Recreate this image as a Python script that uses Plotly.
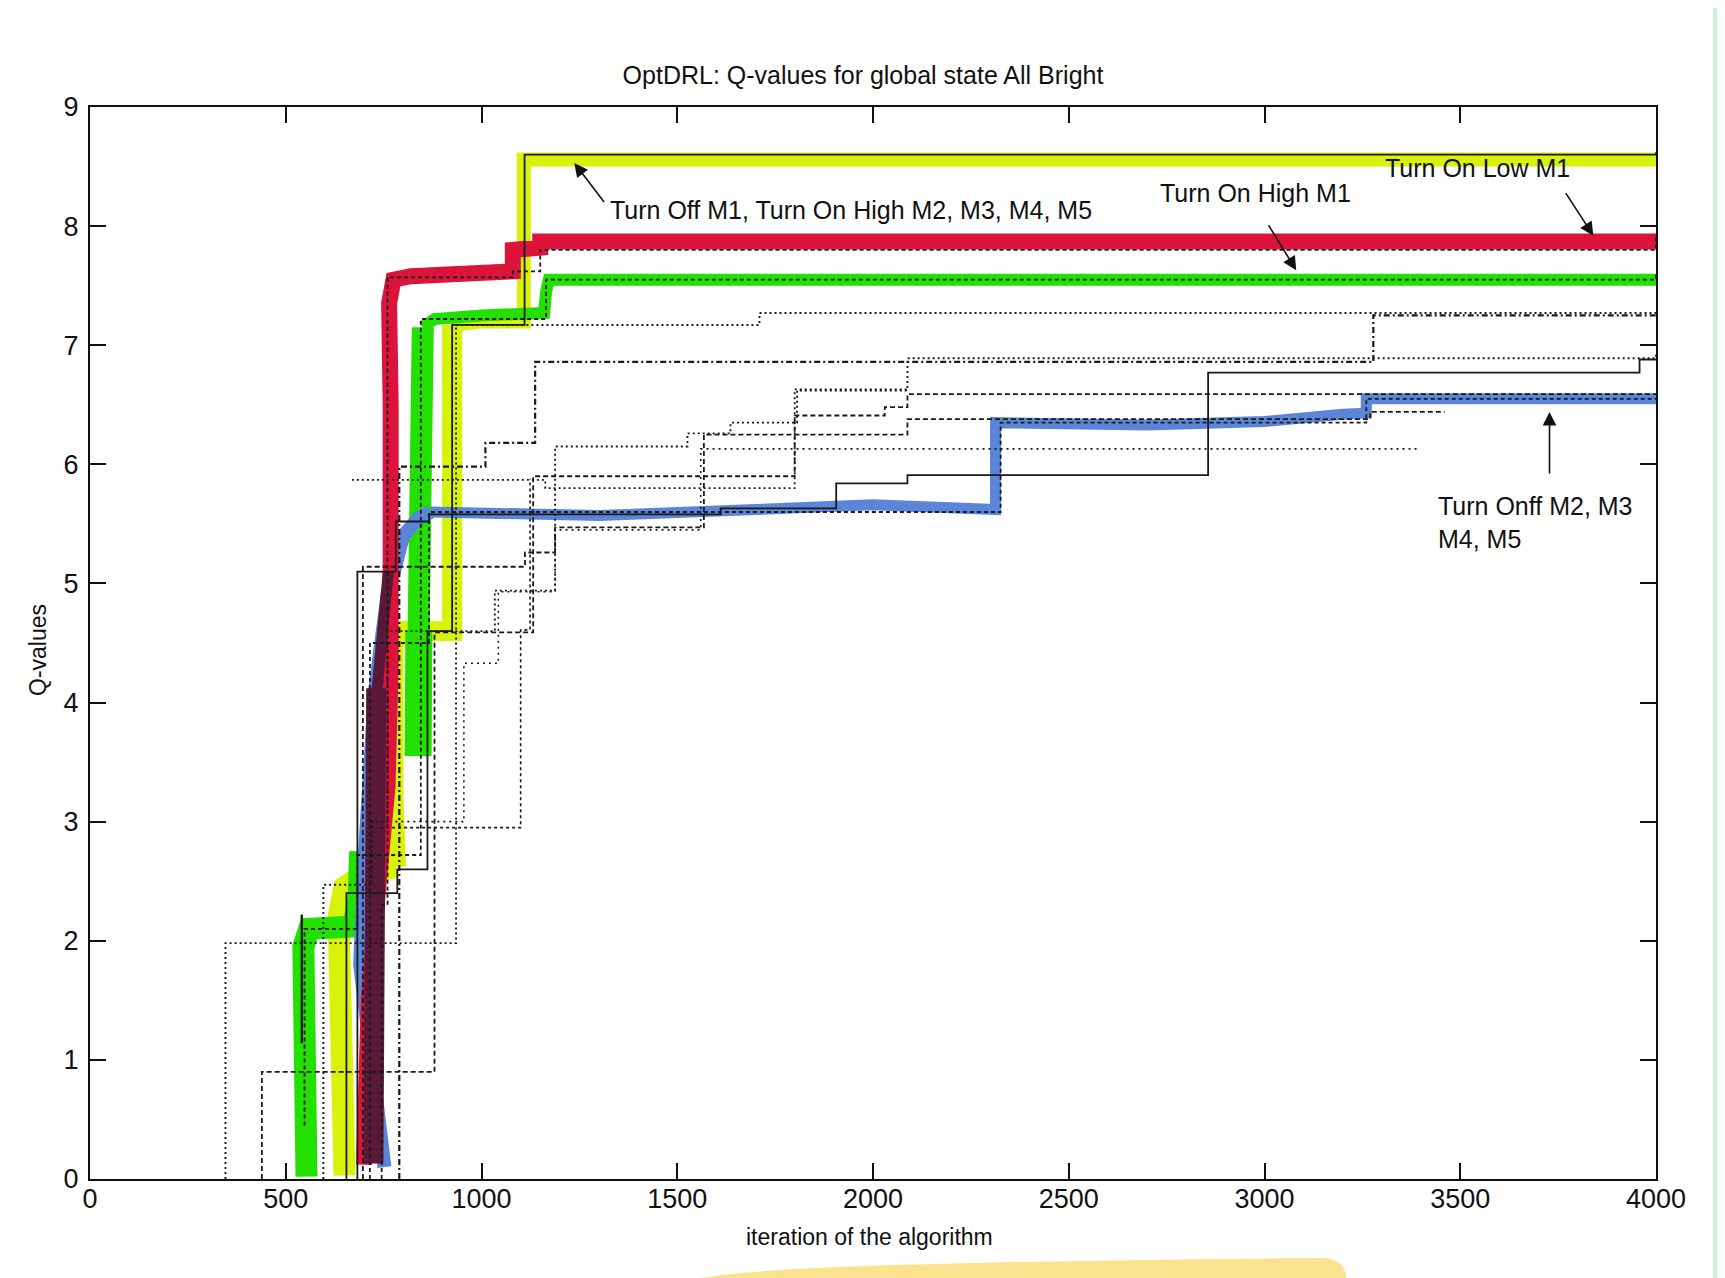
import plotly.graph_objects as go

# ---------------- data (iteration, Q-value) ----------------
x_ticks = [0, 500, 1000, 1500, 2000, 2500, 3000, 3500, 4000]
y_ticks = [0, 1, 2, 3, 4, 5, 6, 7, 8, 9]

# black step curves (shape hv)
q1_x = [655, 655, 785, 862, 925, 1110, 4000]
q1_y = [0, 2.4, 2.6, 4.6, 7.17, 8.6, 8.62]
q2_x = [745, 745, 760, 1080, 1150, 4000]
q2_y = [0, 2.3, 7.57, 7.62, 7.8, 7.92]
q3_x = [548, 548, 683, 845, 1165, 4000]
q3_y = [0.45, 2.1, 2.72, 7.22, 7.55, 7.61]
q3b_x = [541, 541]
q3b_y = [1.14, 2.22]
q4_x = [346, 346, 935, 1710, 4000]
q4_y = [0, 1.98, 7.17, 7.27, 7.29]
q5_x = [790, 790, 1010, 1137, 3278, 4000]
q5_y = [0, 5.98, 6.18, 6.86, 7.25, 7.27]
q6_x = [596, 596, 720, 760, 1034, 1188, 1526, 1636, 1806, 2088, 4000]
q6_y = [0, 2.47, 3.0, 4.6, 4.94, 6.15, 6.26, 6.35, 6.62, 6.89, 6.92]
q7_x = [683, 683, 781, 866, 1611, 1906, 2088, 2856, 3958, 4000]
q7_y = [0, 5.1, 5.52, 5.58, 5.63, 5.84, 5.91, 6.77, 6.88, 6.88]
q8_x = [439, 439, 880, 1132, 1800, 2030, 2088, 4000]
q8_y = [0, 0.9, 4.59, 5.9, 6.41, 6.48, 6.59, 6.59]
q9_x = [715, 715, 866, 2326, 3260, 4000]
q9_y = [0, 4.5, 5.6, 6.35, 6.55, 6.55]
q10_x = [780, 955, 1043, 1188, 1560, 3390]
q10_y = [3.0, 4.33, 4.93, 5.45, 6.13, 6.13]
q11_x = [697, 697, 1111, 1188, 1568, 2088, 3270, 3460]
q11_y = [0, 5.14, 5.26, 5.47, 6.25, 6.38, 6.44, 6.44]
q12_x = [669, 1163, 1800, 2088]
q12_y = [5.87, 5.8, 6.63, 6.63]
q13_x = [741, 792, 1100, 1124]
q13_y = [2.95, 2.95, 4.61, 5.88]

# hand-drawn highlight strokes (vertices)
yellow_low_x = [650, 640, 635, 650, 700, 782]
yellow_low_y = [0.03, 1.5, 2.2, 2.45, 2.56, 2.62]
yellow_mid_x = [782, 775, 775, 800, 925, 925]
yellow_mid_y = [2.62, 3.2, 4.5, 4.6, 4.6, 7.17]
yellow_top_x = [925, 1000, 1108, 1108, 4000]
yellow_top_y = [7.17, 7.2, 7.2, 8.56, 8.56]
green_low_x = [553, 546, 545, 560, 600, 672, 686, 690]
green_low_y = [0.02, 1.2, 1.95, 2.1, 2.1, 2.12, 2.35, 2.75]
green_up_x = [835, 837, 840, 845, 850]
green_up_y = [3.55, 4.6, 5.6, 6.6, 7.15]
green_top_x = [850, 880, 1000, 1160, 1165, 1172, 4000]
green_top_y = [7.15, 7.22, 7.25, 7.27, 7.45, 7.55, 7.55]
green_block_x = [838, 840]
green_block_y = [3.55, 4.6]
blue_low_x = [752, 720, 690, 700, 728, 760, 800, 840, 870]
blue_low_y = [0.1, 0.9, 1.8, 2.6, 4.1, 4.9, 5.4, 5.55, 5.6]
blue_top_x = [870, 1300, 1700, 2000, 2313, 2313, 2700, 3000, 3200, 3260, 3260, 4000]
blue_top_y = [5.6, 5.57, 5.62, 5.66, 5.62, 6.35, 6.33, 6.36, 6.42, 6.43, 6.55, 6.55]
red_x = [700, 712, 735, 760, 768, 771, 768, 764, 775, 820, 1080, 1080, 1150, 1150, 4000]
red_y = [0.12, 1.5, 2.4, 3.3, 4.3, 5.5, 6.5, 7.35, 7.55, 7.58, 7.62, 7.8, 7.82, 7.87, 7.87]
maroon_x = [724, 727, 731]
maroon_y = [0.13, 2.0, 4.12]
maroon_up_x = [733, 752, 762]
maroon_up_y = [4.1, 4.7, 5.1]

# annotations
label_texts = ["Turn Off M1, Turn On High M2, M3, M4, M5", "Turn On High M1",
               "Turn On Low M1", "Turn Onff M2, M3<br>M4, M5"]
label_x = [1324, 2977, 3545, 3438]
label_y = [8.135, 8.28, 8.49, 5.51]
arrow_tail_x = [1316, 3008, 3767, 3728]
arrow_tail_y = [8.19, 8.02, 8.29, 5.91]
arrow_head_x = [1237, 3081, 3840, 3728]
arrow_head_y = [8.53, 7.63, 7.92, 6.44]

# ---------------- figure ----------------
OFF = 8                      # default page margin of the html body
W, H = 1725 - OFF, 1278 - OFF
ML, MR, MT, MB = 82, 69, 99, 99
PW, PH = W - ML - MR, H - MT - MB


def paper(px, py):
    """page pixel -> paper coordinates"""
    fx, fy = px - OFF, py - OFF
    return (fx - ML) / PW, (H - MB - fy) / PH


FONT = "Liberation Sans Narrow, Arial Narrow, Liberation Sans, Arial, sans-serif"

fig = go.Figure()

highlights = [
    (yellow_low_x, yellow_low_y, "#d9f20a", 22),
    (yellow_mid_x, yellow_mid_y, "#d9f20a", 20),
    (yellow_top_x, yellow_top_y, "#d9f20a", 14),
    (green_low_x, green_low_y, "#22e000", 22),
    (green_up_x, green_up_y, "#22e000", 22),
    (green_top_x, green_top_y, "#22e000", 12),
    (green_block_x, green_block_y, "#22e000", 27),
    (blue_low_x, blue_low_y, "#5b85d8", 14),
    (blue_top_x, blue_top_y, "#5b85d8", 11),
    (red_x, red_y, "#dc143c", 16),
    (maroon_x, maroon_y, "#5a1838", 20),
    (maroon_up_x, maroon_up_y, "#5a1838", 11),
]
for hx, hy, col, w in highlights:
    fig.add_trace(go.Scatter(x=hx, y=hy, mode="lines", hoverinfo="skip",
                             line=dict(color=col, width=w, shape="linear")))

blacks = [
    (q1_x, q1_y, "solid", 1.8), (q2_x, q2_y, "4px,3px", 1.8), (q3_x, q3_y, "4px,3px", 1.8),
    (q3b_x, q3b_y, "solid", 2.4), (q4_x, q4_y, "2px,3px", 1.9),
    (q5_x, q5_y, "6px,3px,2px,3px", 2.2), (q6_x, q6_y, "2px,3px", 1.9),
    (q7_x, q7_y, "solid", 1.8), (q8_x, q8_y, "5px,3px", 1.8), (q9_x, q9_y, "4px,3px", 1.8),
    (q10_x, q10_y, "2px,4px", 1.6), (q11_x, q11_y, "5px,3px", 1.8),
    (q12_x, q12_y, "2px,3px", 1.8), (q13_x, q13_y, "3px,3px", 1.6),
]
for bx, by, dash, w in blacks:
    fig.add_trace(go.Scatter(x=bx, y=by, mode="lines", hoverinfo="skip",
                             line=dict(color="#1a1a1a", width=w, shape="hv", dash=dash)))

annotations = []
for t, tx, ty, ax_, ay_, hx, hy in zip(label_texts, label_x, label_y,
                                       arrow_tail_x, arrow_tail_y, arrow_head_x, arrow_head_y):
    anchor = "center" if t in ("Turn On High M1", "Turn On Low M1") else "left"
    annotations.append(dict(x=tx, y=ty, xref="x", yref="y", text=t, showarrow=False,
                            xanchor=anchor, yanchor="middle", align="left",
                            font=dict(family=FONT, size=25, color="#111")))
    annotations.append(dict(x=hx, y=hy, ax=ax_, ay=ay_, xref="x", yref="y",
                            axref="x", ayref="y", text="", showarrow=True,
                            arrowhead=2, arrowsize=1.7, arrowwidth=1.6, arrowcolor="#111"))

# axis titles
xt = paper(869, 1237)
yt = paper(38, 650)
annotations.append(dict(x=xt[0], y=xt[1], xref="paper", yref="paper",
                        text="iteration of the algorithm", showarrow=False,
                        xanchor="center", yanchor="middle",
                        font=dict(family=FONT, size=23, color="#111")))
annotations.append(dict(x=yt[0], y=yt[1], xref="paper", yref="paper",
                        text="Q-values", showarrow=False, textangle=-90,
                        xanchor="center", yanchor="middle",
                        font=dict(family=FONT, size=23, color="#111")))

# scan artefacts: mint strip at the right edge, yellow smudge at the bottom
s0 = paper(1713, 1278)
s1 = paper(1725, 0)
pts = [paper(700, 1278), paper(760, 1268), paper(900, 1262), paper(1320, 1258),
       paper(1342, 1258), paper(1346, 1270), paper(1346, 1278)]
blob = ("M {0[0]},{0[1]} C {1[0]},{1[1]} {2[0]},{2[1]} {3[0]},{3[1]} "
        "C {4[0]},{4[1]} {5[0]},{5[1]} {6[0]},{6[1]} Z").format(*pts)
shapes = [
    dict(type="rect", xref="paper", yref="paper", x0=s0[0], x1=s1[0], y0=s0[1], y1=s1[1],
         fillcolor="#c9f3d3", line=dict(width=0), layer="above"),
    dict(type="path", xref="paper", yref="paper", path=blob,
         fillcolor="#fbe28e", line=dict(width=0), layer="below"),
]

axis_common = dict(showline=True, linecolor="#111", linewidth=2, mirror="allticks",
                   ticks="inside", ticklen=16, tickwidth=1.5, tickcolor="#111",
                   showgrid=False, zeroline=False,
                   tickfont=dict(family=FONT, size=27, color="#111"))

fig.update_layout(
    width=W, height=H,
    margin=dict(l=ML, r=MR, t=MT, b=MB, autoexpand=False),
    paper_bgcolor="white", plot_bgcolor="white",
    showlegend=False,
    title=dict(text="OptDRL: Q-values for global state All Bright",
               x=paper(863, 0)[0], xref="paper", xanchor="center",
               y=1 - (75 - OFF) / H, yref="container", yanchor="middle",
               font=dict(family=FONT, size=25, color="#111")),
    xaxis=dict(range=[0, 4000], tickvals=x_ticks, ticktext=[str(v) for v in x_ticks],
               ticklabelstandoff=-5, **axis_common),
    yaxis=dict(range=[0, 9], tickvals=y_ticks, ticktext=[str(v) for v in y_ticks],
               ticklabelstandoff=4, **axis_common),
    annotations=annotations,
    shapes=shapes,
)

fig.write_html("out.html", config={"displayModeBar": False},
               post_script="document.documentElement.style.overflow='hidden';"
                           "document.body.style.overflow='hidden';")
